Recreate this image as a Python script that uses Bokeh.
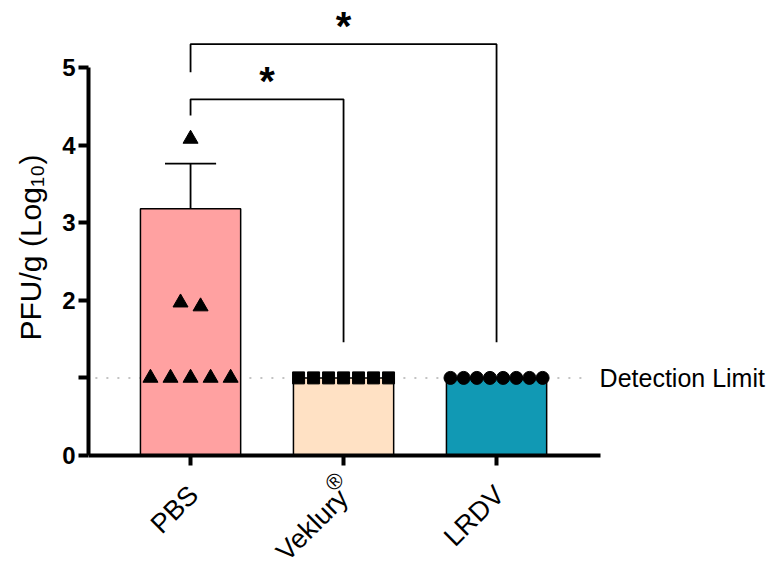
import numpy as np
from bokeh.plotting import figure
from bokeh.models import FixedTicker, Range1d, ColumnDataSource, Label
from bokeh.core.properties import value
from bokeh.embed import file_html
from bokeh.resources import INLINE

# ---------------- data ----------------
groups = ["PBS", "Veklury", "LRDV"]
group_marks = ["", "®", ""]
bar_means = [3.18, 1.0, 1.0]
bar_colors = ["#FFA1A1", "#FFE1C4", "#1199B4"]
pbs_err_upper = 3.76

pbs_points = [4.08, 1.97, 1.92, 1.0, 1.0, 1.0, 1.0, 1.0]
veklury_points = [1.0, 1.0, 1.0, 1.0, 1.0, 1.0, 1.0]
lrdv_points = [1.0, 1.0, 1.0, 1.0, 1.0, 1.0, 1.0, 1.0]

detection_limit = 1.0
y_ticks = [0, 1, 2, 3, 4, 5]

# significance brackets: (group a, group b, top y, left leg end, right leg end, label)
brackets = [
    (0, 1, 4.59, 4.38, 1.46, "*"),
    (0, 2, 5.30, 4.94, 1.46, "*"),
]

FONT = "Liberation Sans"

PX_X = 153.0   # pixels per category unit
PX_Y = 77.6    # pixels per log unit
x_lo, x_hi_axis = -0.667, 2.68
x_hi = x_lo + 680 / PX_X
y_lo = -(569 - 455) / PX_Y
y_hi = 455 / PX_Y

p = figure(width=768, height=569, output_backend="svg", toolbar_location=None,
           x_range=Range1d(x_lo, x_hi), y_range=Range1d(y_lo, y_hi),
           x_axis_location="above",
           min_border_left=88, min_border_right=0, min_border_top=0,
           min_border_bottom=0)
p.outline_line_color = None
p.grid.visible = False
p.background_fill_color = "white"
p.border_fill_color = "white"

# detection limit dotted line (behind bars)
p.line([x_lo + 0.045, x_hi_axis - 0.07], [detection_limit, detection_limit],
       line_color="#b0b0b0", line_width=1.5, line_dash="2 9")

# bars
xs = list(range(len(groups)))
src = ColumnDataSource(dict(x=xs, top=bar_means, color=bar_colors))
p.vbar(x="x", top="top", bottom=0, width=0.655, fill_color="color",
       line_color="black", line_width=1.5, source=src)

# error bar PBS (upper only)
p.segment(x0=[0], y0=[bar_means[0]], x1=[0], y1=[pbs_err_upper],
          line_color="black", line_width=1.8)
p.segment(x0=[-0.167], y0=[pbs_err_upper], x1=[0.167], y1=[pbs_err_upper],
          line_color="black", line_width=1.8)


def spread(vals, center, step):
    keys = [round(v * 2) / 2 for v in vals]
    out = []
    for i, k in enumerate(keys):
        members = [j for j, kk in enumerate(keys) if kk == k]
        n = len(members)
        idx = members.index(i)
        out.append(center + (idx - (n - 1) / 2) * step)
    return out


p.scatter(spread(pbs_points, 0, 0.131), pbs_points, marker="triangle",
          size=15, color="black")
p.scatter(spread(veklury_points, 1, 0.098), veklury_points, marker="square",
          size=12, color="black")
p.scatter(spread(lrdv_points, 2, 0.086), lrdv_points, marker="circle",
          size=13, color="black")

# brackets
for a, b, top, la, lb, lab in brackets:
    p.line([a, a, b, b], [la, top, top, lb], line_color="black", line_width=1.8)
    p.text(x=[(a + b) / 2], y=[top], text=[lab], text_font=value(FONT),
           text_font_style="bold", text_font_size="40px", text_align="center",
           text_baseline="middle", y_offset=-18, text_color="black")

# detection limit label
p.text(x=[x_hi_axis], y=[detection_limit], text=["Detection Limit"],
       text_font=value(FONT), text_font_size="25px", text_align="left",
       text_baseline="middle", x_offset=-1, text_color="black")

# rotated category labels
ang = np.pi / 4
for i, (g, m) in enumerate(zip(groups, group_marks)):
    d = 3 if m else 0
    p.add_layout(Label(x=i, y=0, text=g, angle=ang, text_align="right",
                       text_baseline="middle", x_offset=3 - d, y_offset=-35 - d,
                       text_font=FONT, text_font_size="27px", text_color="black"))
    if m:
        p.add_layout(Label(x=i, y=0, text=m, angle=ang, text_align="center",
                           text_baseline="middle", x_offset=-9, y_offset=-26,
                           text_font=FONT, text_font_size="22px",
                           text_color="black"))

# x axis: drawn at y = 0, ticks pointing down
xa = p.xaxis[0]
xa.fixed_location = 0
xa.ticker = FixedTicker(ticks=xs)
xa.major_label_overrides = {i: "" for i in xs}
xa.bounds = (x_lo, x_hi_axis)
xa.axis_line_width = 4
xa.major_tick_line_width = 4
xa.major_tick_in = 10
xa.major_tick_out = 0
xa.minor_tick_line_color = None
xa.major_label_text_font_size = "1px"
xa.major_label_standoff = 0

ya = p.yaxis[0]
ya.ticker = FixedTicker(ticks=y_ticks)
ya.major_label_overrides = {1: ""}
ya.bounds = (0, 5)
ya.axis_line_width = 4
ya.major_tick_line_width = 4
ya.major_tick_in = 0
ya.major_tick_out = 10
ya.minor_tick_line_color = None
ya.major_label_text_font = FONT
ya.major_label_text_font_style = "bold"
ya.major_label_text_font_size = "24px"
ya.major_label_standoff = 3
ya.major_label_text_color = "black"
ya.axis_label = "\u00a0" * 9 + "PFU/g (Log₁₀)"
ya.axis_label_text_font = FONT
ya.axis_label_text_font_style = "normal"
ya.axis_label_text_font_size = "30px"
ya.axis_label_standoff = 12
ya.axis_label_text_color = "black"

open("out.html", "w").write(file_html(p, INLINE))
